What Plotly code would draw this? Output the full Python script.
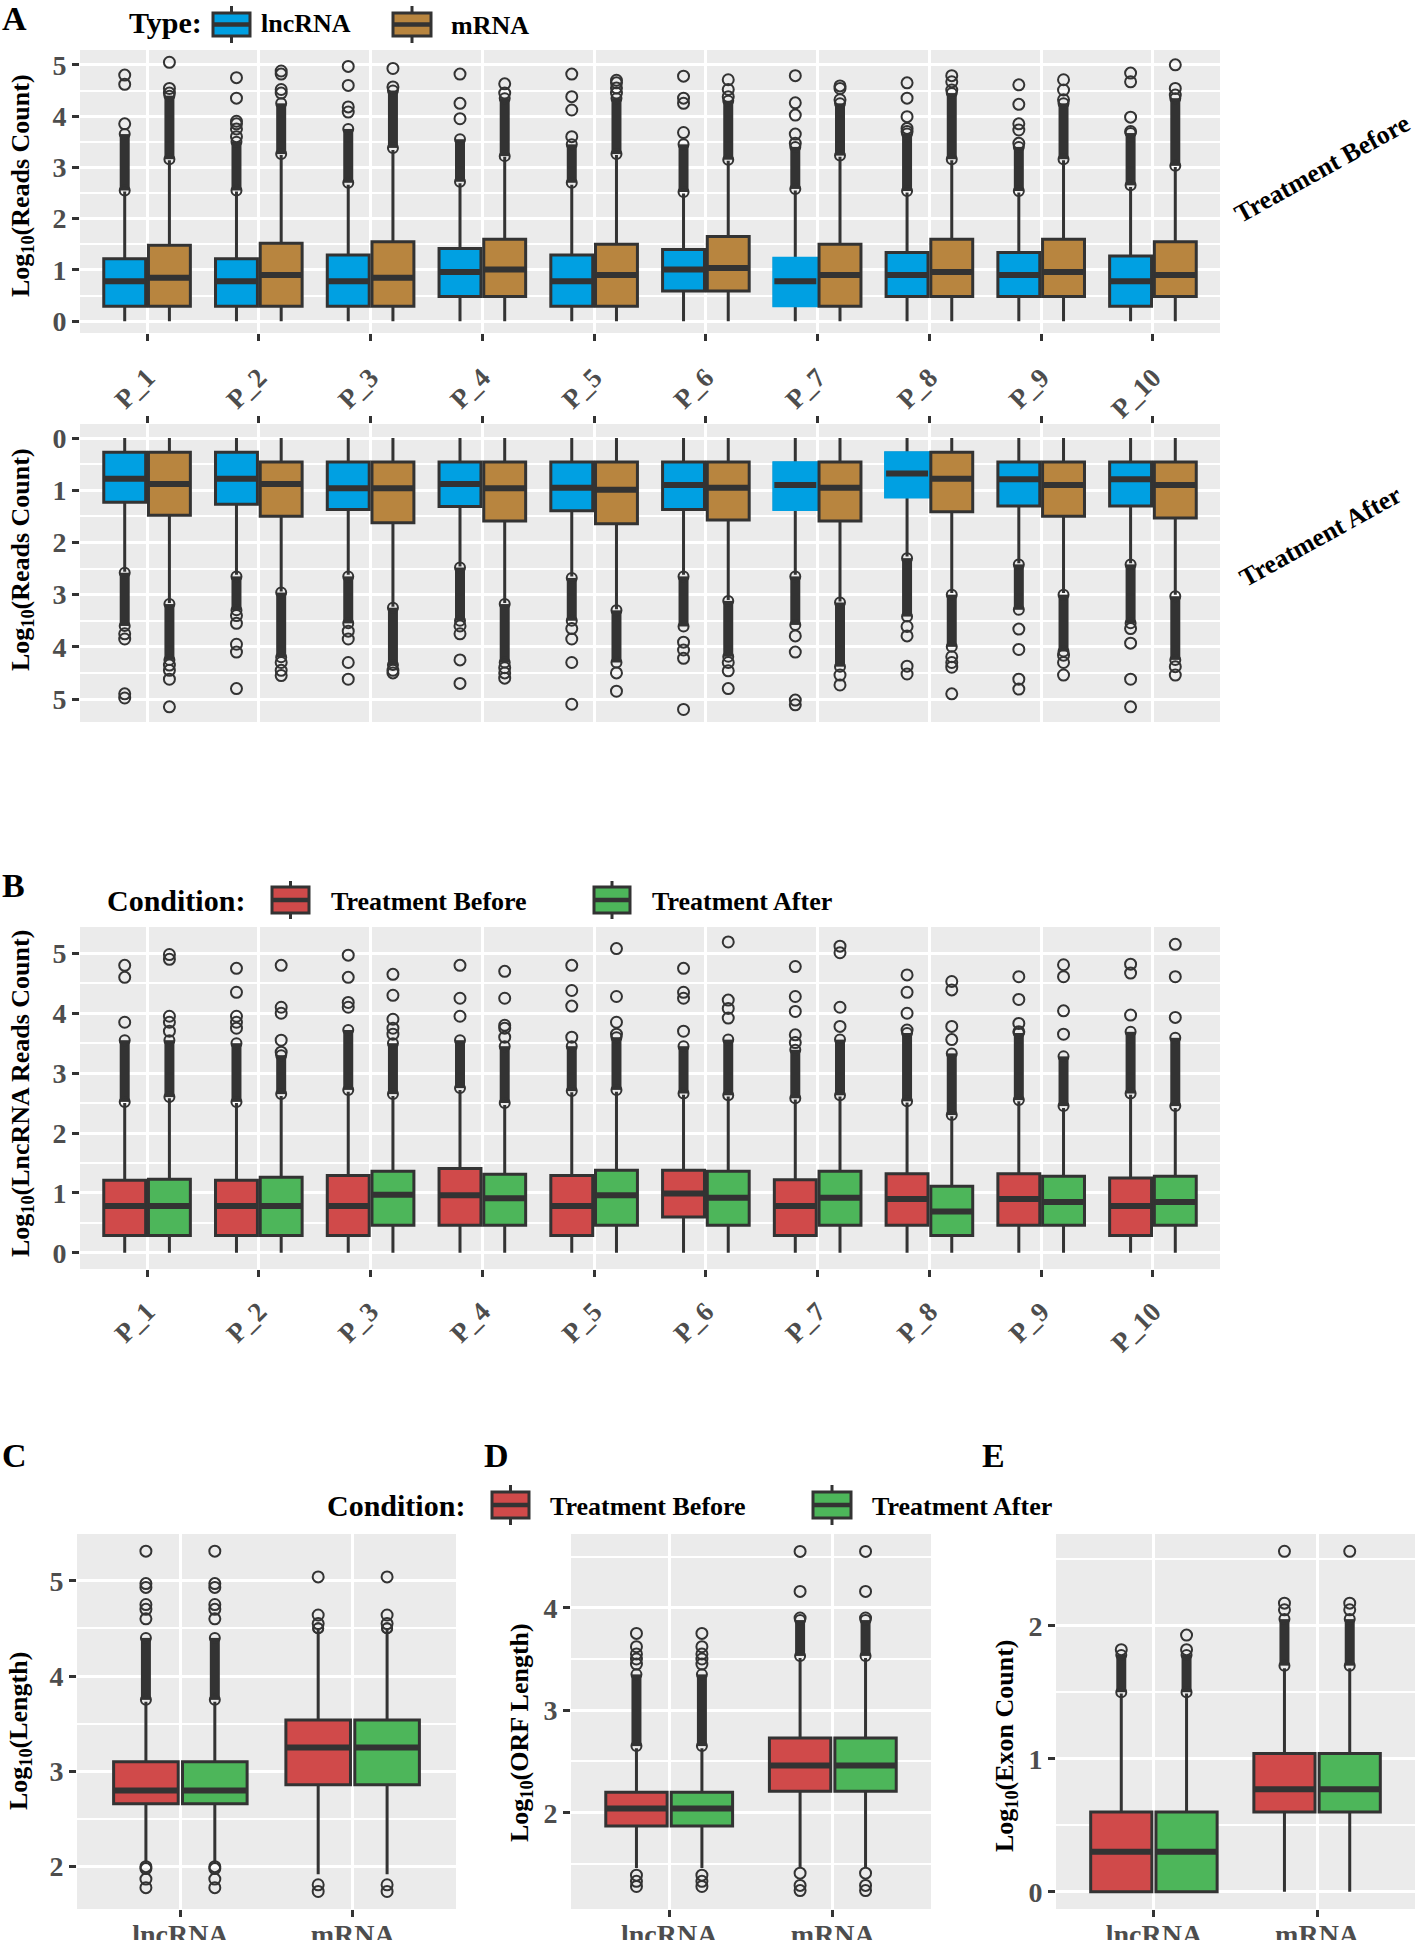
import plotly.graph_objects as go

W, H = 1418, 1940
FONT = "Liberation Serif"
DARK = "#333333"
TICK_TXT = "#4D4D4D"
BG = "#EBEBEB"
BLUE = "#00A0E2"
BROWN = "#B8853F"
RED = "#D04A4A"
GREEN = "#4DB65A"

patients = ["P_1", "P_2", "P_3", "P_4", "P_5", "P_6", "P_7", "P_8", "P_9", "P_10"]
rna_types = ["lncRNA", "mRNA"]

# ---- Panel A, Treatment Before: (q1, median, q3, lower fence, upper fence) per patient
a_before_lnc = [(0.29, 0.78, 1.22, 0, 2.53), (0.29, 0.78, 1.22, 0, 2.53), (0.29, 0.78, 1.29, 0, 2.66),
                (0.48, 0.96, 1.42, 0, 2.69), (0.29, 0.78, 1.29, 0, 2.66), (0.59, 1.01, 1.40, 0, 2.49),
                (0.31, 0.78, 1.22, 0, 2.55), (0.48, 0.90, 1.34, 0, 2.51), (0.48, 0.90, 1.34, 0, 2.51),
                (0.29, 0.78, 1.27, 0, 2.62)]
a_before_lnc_dense = [(2.55, 3.65), (2.55, 3.50), (2.70, 3.75), (2.72, 3.55), (2.70, 3.45),
                      (2.52, 3.45), (2.58, 3.40), (2.54, 3.66), (2.54, 3.40), (2.65, 3.67)]
a_before_lnc_out = [[3.85, 4.62, 4.80], [3.6, 3.75, 3.85, 3.9, 4.35, 4.75], [4.08, 4.18, 4.6, 4.97],
                    [3.95, 4.25, 4.82], [3.6, 4.12, 4.38, 4.82], [3.68, 4.25, 4.35, 4.78],
                    [3.47, 3.65, 4.02, 4.26, 4.79], [3.7, 3.76, 3.99, 4.35, 4.65],
                    [3.47, 3.73, 3.85, 4.23, 4.61], [3.7, 3.98, 4.67, 4.84]]

a_before_m = [(0.29, 0.85, 1.48, 0, 3.14), (0.29, 0.90, 1.52, 0, 3.24), (0.29, 0.85, 1.55, 0, 3.34),
              (0.48, 1.01, 1.60, 0, 3.21), (0.29, 0.90, 1.50, 0, 3.24), (0.59, 1.04, 1.65, 0, 3.13),
              (0.29, 0.90, 1.50, 0, 3.21), (0.48, 0.96, 1.60, 0, 3.14), (0.48, 0.96, 1.60, 0, 3.14),
              (0.48, 0.90, 1.55, 0, 3.01)]
a_before_m_dense = [(3.16, 4.40), (3.26, 4.25), (3.38, 4.50), (3.22, 4.35), (3.26, 4.35),
                    (3.15, 4.30), (3.23, 4.25), (3.16, 4.45), (3.16, 4.25), (3.03, 4.35)]
a_before_m_out = [[4.45, 4.54, 5.05], [4.45, 4.52, 4.82, 4.88], [4.57, 4.93], [4.45, 4.63],
                  [4.45, 4.55, 4.65, 4.7], [4.38, 4.52, 4.71], [4.32, 4.54, 4.59],
                  [4.51, 4.67, 4.79], [4.32, 4.51, 4.71], [4.41, 4.54, 5.0]]

# ---- Panel A, Treatment After (reversed axis)
a_after_lnc = [(0.27, 0.78, 1.23, 0, 2.56), (0.27, 0.78, 1.27, 0, 2.62), (0.46, 0.96, 1.37, 0, 2.62),
               (0.46, 0.88, 1.31, 0, 2.46), (0.46, 0.95, 1.39, 0, 2.65), (0.46, 0.90, 1.37, 0, 2.62),
               (0.48, 0.90, 1.36, 0, 2.62), (0.29, 0.68, 1.12, 0, 2.27), (0.46, 0.79, 1.30, 0, 2.40),
               (0.46, 0.79, 1.30, 0, 2.40)]
a_after_lnc_dense = [(2.58, 3.60), (2.65, 3.30), (2.65, 3.55), (2.48, 3.50), (2.68, 3.50),
                     (2.65, 3.61), (2.65, 3.58), (2.30, 3.42), (2.42, 3.29), (2.42, 3.55)]
a_after_lnc_out = [[3.75, 3.85, 4.9, 4.98], [3.4, 3.55, 3.95, 4.1, 4.8], [3.7, 3.85, 4.3, 4.62],
                   [3.6, 3.75, 4.25, 4.7], [3.65, 3.85, 4.3, 5.1], [3.91, 4.06, 4.22, 5.2],
                   [3.79, 4.1, 5.02, 5.11], [3.61, 3.79, 4.37, 4.52], [3.66, 4.05, 4.62, 4.81],
                   [3.65, 3.93, 4.62, 5.15]]

a_after_m = [(0.27, 0.88, 1.48, 0, 3.16), (0.46, 0.88, 1.50, 0, 2.94), (0.46, 0.96, 1.62, 0, 3.23),
             (0.46, 0.96, 1.59, 0, 3.16), (0.46, 0.99, 1.64, 0, 3.28), (0.46, 0.95, 1.57, 0, 3.10),
             (0.46, 0.95, 1.59, 0, 3.13), (0.27, 0.78, 1.41, 0, 2.97), (0.46, 0.90, 1.50, 0, 2.97),
             (0.46, 0.90, 1.53, 0, 3.00)]
a_after_m_dense = [(3.18, 4.25), (2.96, 4.20), (3.25, 4.35), (3.18, 4.30), (3.30, 4.30),
                   (3.12, 4.19), (3.15, 4.38), (3.00, 4.00), (3.00, 4.09), (3.03, 4.25)]
a_after_m_out = [[4.35, 4.45, 4.62, 5.15], [4.3, 4.45, 4.55], [4.45, 4.5], [4.4, 4.5, 4.6],
                 [4.5, 4.85], [4.3, 4.46, 4.8], [4.54, 4.73], [4.19, 4.3, 4.39, 4.9],
                 [4.16, 4.3, 4.54], [4.38, 4.54]]

# boxes drawn without an outline in the original (P_7 / P_8 lncRNA)
a_before_lnc_plain = [6]
a_after_lnc_plain = [6, 7]

# ---- Panel B, lncRNA reads by condition
b_before = [(0.29, 0.78, 1.21, 0, 2.50), (0.29, 0.78, 1.21, 0, 2.50), (0.29, 0.78, 1.29, 0, 2.69),
            (0.46, 0.96, 1.41, 0, 2.72), (0.29, 0.78, 1.29, 0, 2.68), (0.60, 0.99, 1.38, 0, 2.64),
            (0.29, 0.78, 1.22, 0, 2.56), (0.46, 0.90, 1.32, 0, 2.51), (0.46, 0.90, 1.32, 0, 2.53),
            (0.29, 0.78, 1.25, 0, 2.64)]
b_before_dense = [(2.52, 3.55), (2.52, 3.50), (2.72, 3.72), (2.75, 3.55), (2.70, 3.45),
                  (2.66, 3.45), (2.58, 3.39), (2.53, 3.67), (2.55, 3.67), (2.66, 3.69)]
b_before_out = [[3.85, 4.6, 4.8], [3.75, 3.85, 3.95, 4.35, 4.75], [4.1, 4.18, 4.6, 4.97],
                [3.95, 4.25, 4.8], [3.6, 4.12, 4.38, 4.8], [3.7, 4.25, 4.35, 4.75],
                [3.51, 3.64, 4.03, 4.28, 4.78], [3.72, 4.0, 4.35, 4.64], [3.69, 3.83, 4.23, 4.61],
                [3.97, 4.67, 4.82]]

b_after = [(0.29, 0.78, 1.23, 0, 2.58), (0.29, 0.78, 1.26, 0, 2.62), (0.46, 0.97, 1.36, 0, 2.62),
           (0.46, 0.91, 1.31, 0, 2.47), (0.46, 0.96, 1.38, 0, 2.69), (0.46, 0.92, 1.36, 0, 2.61),
           (0.46, 0.92, 1.36, 0, 2.61), (0.29, 0.69, 1.11, 0, 2.28), (0.46, 0.85, 1.28, 0, 2.42),
           (0.46, 0.85, 1.28, 0, 2.42)]
b_after_dense = [(2.60, 3.55), (2.65, 3.30), (2.65, 3.50), (2.50, 3.45), (2.72, 3.60),
                 (2.63, 3.56), (2.63, 3.56), (2.30, 3.33), (2.45, 3.28), (2.45, 3.59)]
b_after_out = [[3.7, 3.85, 3.95, 4.9, 4.98], [3.35, 3.55, 4.0, 4.1, 4.8], [3.65, 3.75, 3.9, 4.3, 4.65],
               [3.6, 3.75, 3.8, 4.25, 4.7], [3.65, 3.85, 4.28, 5.08], [3.92, 4.08, 4.22, 5.19],
               [3.78, 4.1, 5.01, 5.12], [3.56, 3.78, 4.39, 4.53], [3.65, 4.04, 4.61, 4.81],
               [3.93, 4.61, 5.15]]

# ---- Panels C / D / E (lncRNA, mRNA); both conditions look identical
c_len = [(2.66, 2.80, 3.10, 2.03, 3.73), (2.86, 3.25, 3.54, 1.92, 4.50)]
c_len_dense = [(3.75, 4.40), (4.50, 4.50)]
c_len_out = [[1.78, 1.87, 1.98, 2.0, 4.60, 4.70, 4.75, 4.93, 4.97, 5.31], [1.74, 1.81, 4.55, 4.64, 5.04]]

d_orf = [(1.87, 2.04, 2.20, 1.46, 2.63), (2.21, 2.46, 2.73, 1.46, 3.51)]
d_orf_dense = [(2.65, 3.35), (3.53, 3.88)]
d_orf_out = [[1.28, 1.33, 1.39, 3.45, 3.5, 3.55, 3.62, 3.75], [1.24, 1.29, 1.41, 3.9, 4.16, 4.55]]

e_exon = [(0.0, 0.30, 0.60, 0.0, 1.49), (0.60, 0.77, 1.04, 0.0, 1.68)]
e_exon_dense = [(1.50, 1.78), (1.70, 2.05)]
e_exon_out_before = [[1.82], [2.12, 2.17, 2.56]]
e_exon_out_after = [[1.82, 1.93], [2.12, 2.17, 2.56]]


# page pixels -> paper fractions
def px(x):
    return x / W


def py(y):
    return 1 - y / H


fig = go.Figure()


def axref(n):
    s = "" if n == 1 else str(n)
    return dict(xaxis="x" + s, yaxis="y" + s)


def add_series(n, stats, dense, outs, offset, color, width=0.375, plain=()):
    ax = axref(n)
    xs = [i + 1 + offset for i in range(len(stats))]
    q1 = [s[0] for s in stats]
    med = [s[1] for s in stats]
    q3 = [s[2] for s in stats]
    lo = [s[3] for s in stats]
    hi = [s[4] for s in stats]
    common = dict(width=width, whiskerwidth=0, boxpoints=False, orientation="v",
                  hoverinfo="skip", showlegend=False, **ax)
    fig.add_trace(go.Box(x=xs, q1=q1, median=med, q3=q3, lowerfence=lo, upperfence=hi,
                         fillcolor=color, line=dict(color=DARK, width=3), **common))
    if plain:
        fig.add_trace(go.Box(x=[xs[i] for i in plain], q1=[q1[i] for i in plain],
                             median=[med[i] for i in plain], q3=[q3[i] for i in plain],
                             lowerfence=[q1[i] for i in plain], upperfence=[q3[i] for i in plain],
                             fillcolor=color, line=dict(color=color, width=4), **common))
    # thick median bar
    fig.add_trace(go.Box(x=xs, q1=med, median=med, q3=med, lowerfence=med, upperfence=med,
                         fillcolor="rgba(0,0,0,0)", line=dict(color=DARK, width=6), **common))
    # dense runs of overlapping outliers
    dx, dy = [], []
    for x, (a, b) in zip(xs, dense):
        dx += [x, x, None]
        dy += [a, b, None]
    fig.add_trace(go.Scatter(x=dx, y=dy, mode="lines+markers", line=dict(color=DARK, width=10),
                             marker=dict(symbol="circle-open", size=10, color=DARK, line=dict(width=2)),
                             hoverinfo="skip", showlegend=False, **ax))
    ox, oy = [], []
    for x, vals in zip(xs, outs):
        ox += [x] * len(vals)
        oy += vals
    fig.add_trace(go.Scatter(x=ox, y=oy, mode="markers",
                             marker=dict(symbol="circle-open", size=11, color=DARK, line=dict(width=2)),
                             hoverinfo="skip", showlegend=False, **ax))


OFF = 0.2
add_series(1, a_before_lnc, a_before_lnc_dense, a_before_lnc_out, -OFF, BLUE, plain=a_before_lnc_plain)
add_series(1, a_before_m, a_before_m_dense, a_before_m_out, OFF, BROWN)
add_series(2, a_after_lnc, a_after_lnc_dense, a_after_lnc_out, -OFF, BLUE, plain=a_after_lnc_plain)
add_series(2, a_after_m, a_after_m_dense, a_after_m_out, OFF, BROWN)
add_series(3, b_before, b_before_dense, b_before_out, -OFF, RED)
add_series(3, b_after, b_after_dense, b_after_out, OFF, GREEN)
add_series(4, c_len, c_len_dense, c_len_out, -OFF, RED)
add_series(4, c_len, c_len_dense, c_len_out, OFF, GREEN)
add_series(5, d_orf, d_orf_dense, d_orf_out, -OFF, RED)
add_series(5, d_orf, d_orf_dense, d_orf_out, OFF, GREEN)
add_series(6, e_exon, e_exon_dense, e_exon_out_before, -OFF, RED)
add_series(6, e_exon, e_exon_dense, e_exon_out_after, OFF, GREEN)


def set_axes(n, xpx, ypx, yrange, ytickvals, labels, side="bottom", show_labels=True,
             angle=-45, xsize=27, standoff=14, ticklen=7):
    s = "" if n == 1 else str(n)
    tick_font = dict(family=FONT, size=28, color=TICK_TXT, weight="bold")
    fig.layout["xaxis" + s] = dict(
        domain=[px(xpx[0]), px(xpx[1])], anchor="y" + s, type="linear", automargin=False,
        range=[0.4, len(labels) + 0.6], tickvals=list(range(1, len(labels) + 1)), ticktext=labels,
        side=side, showticklabels=show_labels, tickangle=angle,
        tickfont=dict(family=FONT, size=xsize, color=TICK_TXT, weight="bold"),
        ticklabelstandoff=standoff,
        ticks="outside", ticklen=ticklen, tickwidth=3, tickcolor=DARK,
        showgrid=True, gridcolor="white", gridwidth=3, zeroline=False, showline=False, fixedrange=True)
    fig.layout["yaxis" + s] = dict(
        domain=[py(ypx[1]), py(ypx[0])], anchor="x" + s, type="linear", automargin=False,
        range=yrange, tickvals=ytickvals, tickfont=tick_font,
        ticks="outside", ticklen=7, tickwidth=3, tickcolor=DARK,
        showgrid=True, gridcolor="white", gridwidth=2.8, zeroline=False, showline=False,
        minor=dict(dtick=0.5, tick0=0, showgrid=True, gridcolor="white", gridwidth=1.6),
        fixedrange=True)


set_axes(1, (80, 1220), (50, 333), [-0.23, 5.29], [0, 1, 2, 3, 4, 5], patients, standoff=10)
set_axes(2, (80, 1220), (424, 722), [5.44, -0.27], [0, 1, 2, 3, 4, 5], patients, side="top", show_labels=False)
set_axes(3, (80, 1220), (927, 1269), [-0.27, 5.44], [0, 1, 2, 3, 4, 5], patients, standoff=8)
set_axes(4, (77, 456), (1534, 1909), [1.556, 5.49], [2, 3, 4, 5], rna_types, angle=0, xsize=28, standoff=-7)
set_axes(5, (571, 931), (1534, 1909), [1.06, 4.72], [2, 3, 4], rna_types, angle=0, xsize=28, standoff=-7)
set_axes(6, (1056, 1415), (1534, 1909), [-0.13, 2.69], [0, 1, 2], rna_types, angle=0, xsize=28, standoff=-7)

annotations = []
shapes = []


def text(x, y, s, size, angle=0, xanchor="center", color="black"):
    annotations.append(dict(x=px(x), y=py(y), xref="paper", yref="paper", text=s, showarrow=False,
                            xanchor=xanchor, yanchor="middle", textangle=angle,
                            font=dict(family=FONT, size=size, color=color, weight="bold")))


def key(x0, x1, yb0, yb1, yw0, yw1, color):
    xm = (x0 + x1) / 2
    ym = (yb0 + yb1) / 2
    ln = dict(color=DARK, width=3)
    for a, b in ((yw0, yb0), (yb1, yw1)):
        shapes.append(dict(type="line", xref="paper", yref="paper", x0=px(xm), x1=px(xm),
                           y0=py(a), y1=py(b), line=ln))
    shapes.append(dict(type="rect", xref="paper", yref="paper", x0=px(x0), x1=px(x1),
                       y0=py(yb1), y1=py(yb0), fillcolor=color, line=ln))
    shapes.append(dict(type="line", xref="paper", yref="paper", x0=px(x0), x1=px(x1),
                       y0=py(ym), y1=py(ym), line=dict(color=DARK, width=4.5)))


# panel letters
text(15, 19, "A", 34)
text(13, 886, "B", 34)
text(14, 1455, "C", 34)
text(496, 1455, "D", 34)
text(993, 1455, "E", 34)

# legends
text(127, 23, "Type:", 30, xanchor="left")
key(213, 250, 13, 36, 6, 43, BLUE)
text(259, 24, "lncRNA", 26, xanchor="left")
key(393, 431, 13, 36, 6, 43, BROWN)
text(449, 26, "mRNA", 26, xanchor="left")

text(105, 900, "Condition:", 30, xanchor="left")
key(272, 309, 887, 913, 881, 919, RED)
text(329, 901, "Treatment Before", 26, xanchor="left")
key(594, 630, 887, 913, 881, 919, GREEN)
text(650, 901, "Treatment After", 26, xanchor="left")

text(325, 1505, "Condition:", 30, xanchor="left")
key(492, 529, 1492, 1518, 1485, 1525, RED)
text(548, 1506, "Treatment Before", 26, xanchor="left")
key(813, 851, 1492, 1518, 1485, 1525, GREEN)
text(870, 1506, "Treatment After", 26, xanchor="left")

# strip labels
text(1322, 168, "Treatment Before", 26, angle=-29)
text(1320, 536, "Treatment After", 26, angle=-29)

# y-axis titles
text(22, 186, "Log<sub>10</sub>(Reads Count)", 26, angle=-90)
text(22, 560, "Log<sub>10</sub>(Reads Count)", 26, angle=-90)
text(22, 1094, "Log<sub>10</sub>(LncRNA Reads Count)", 26, angle=-90)
text(20, 1731, "Log<sub>10</sub>(Length)", 26, angle=-90)
text(521, 1733, "Log<sub>10</sub>(ORF Length)", 26, angle=-90)
text(1006, 1746, "Log<sub>10</sub>(Exon Count)", 26, angle=-90)

fig.update_layout(
    width=W, height=H, margin=dict(l=0, r=0, t=0, b=0, autoexpand=False),
    paper_bgcolor="white", plot_bgcolor=BG, boxmode="overlay",
    font=dict(family=FONT, color="black"),
    annotations=annotations, shapes=shapes, showlegend=False,
)

fig.write_html("out.html", config={"displayModeBar": False},
               post_script="document.body.style.margin='0px';")
